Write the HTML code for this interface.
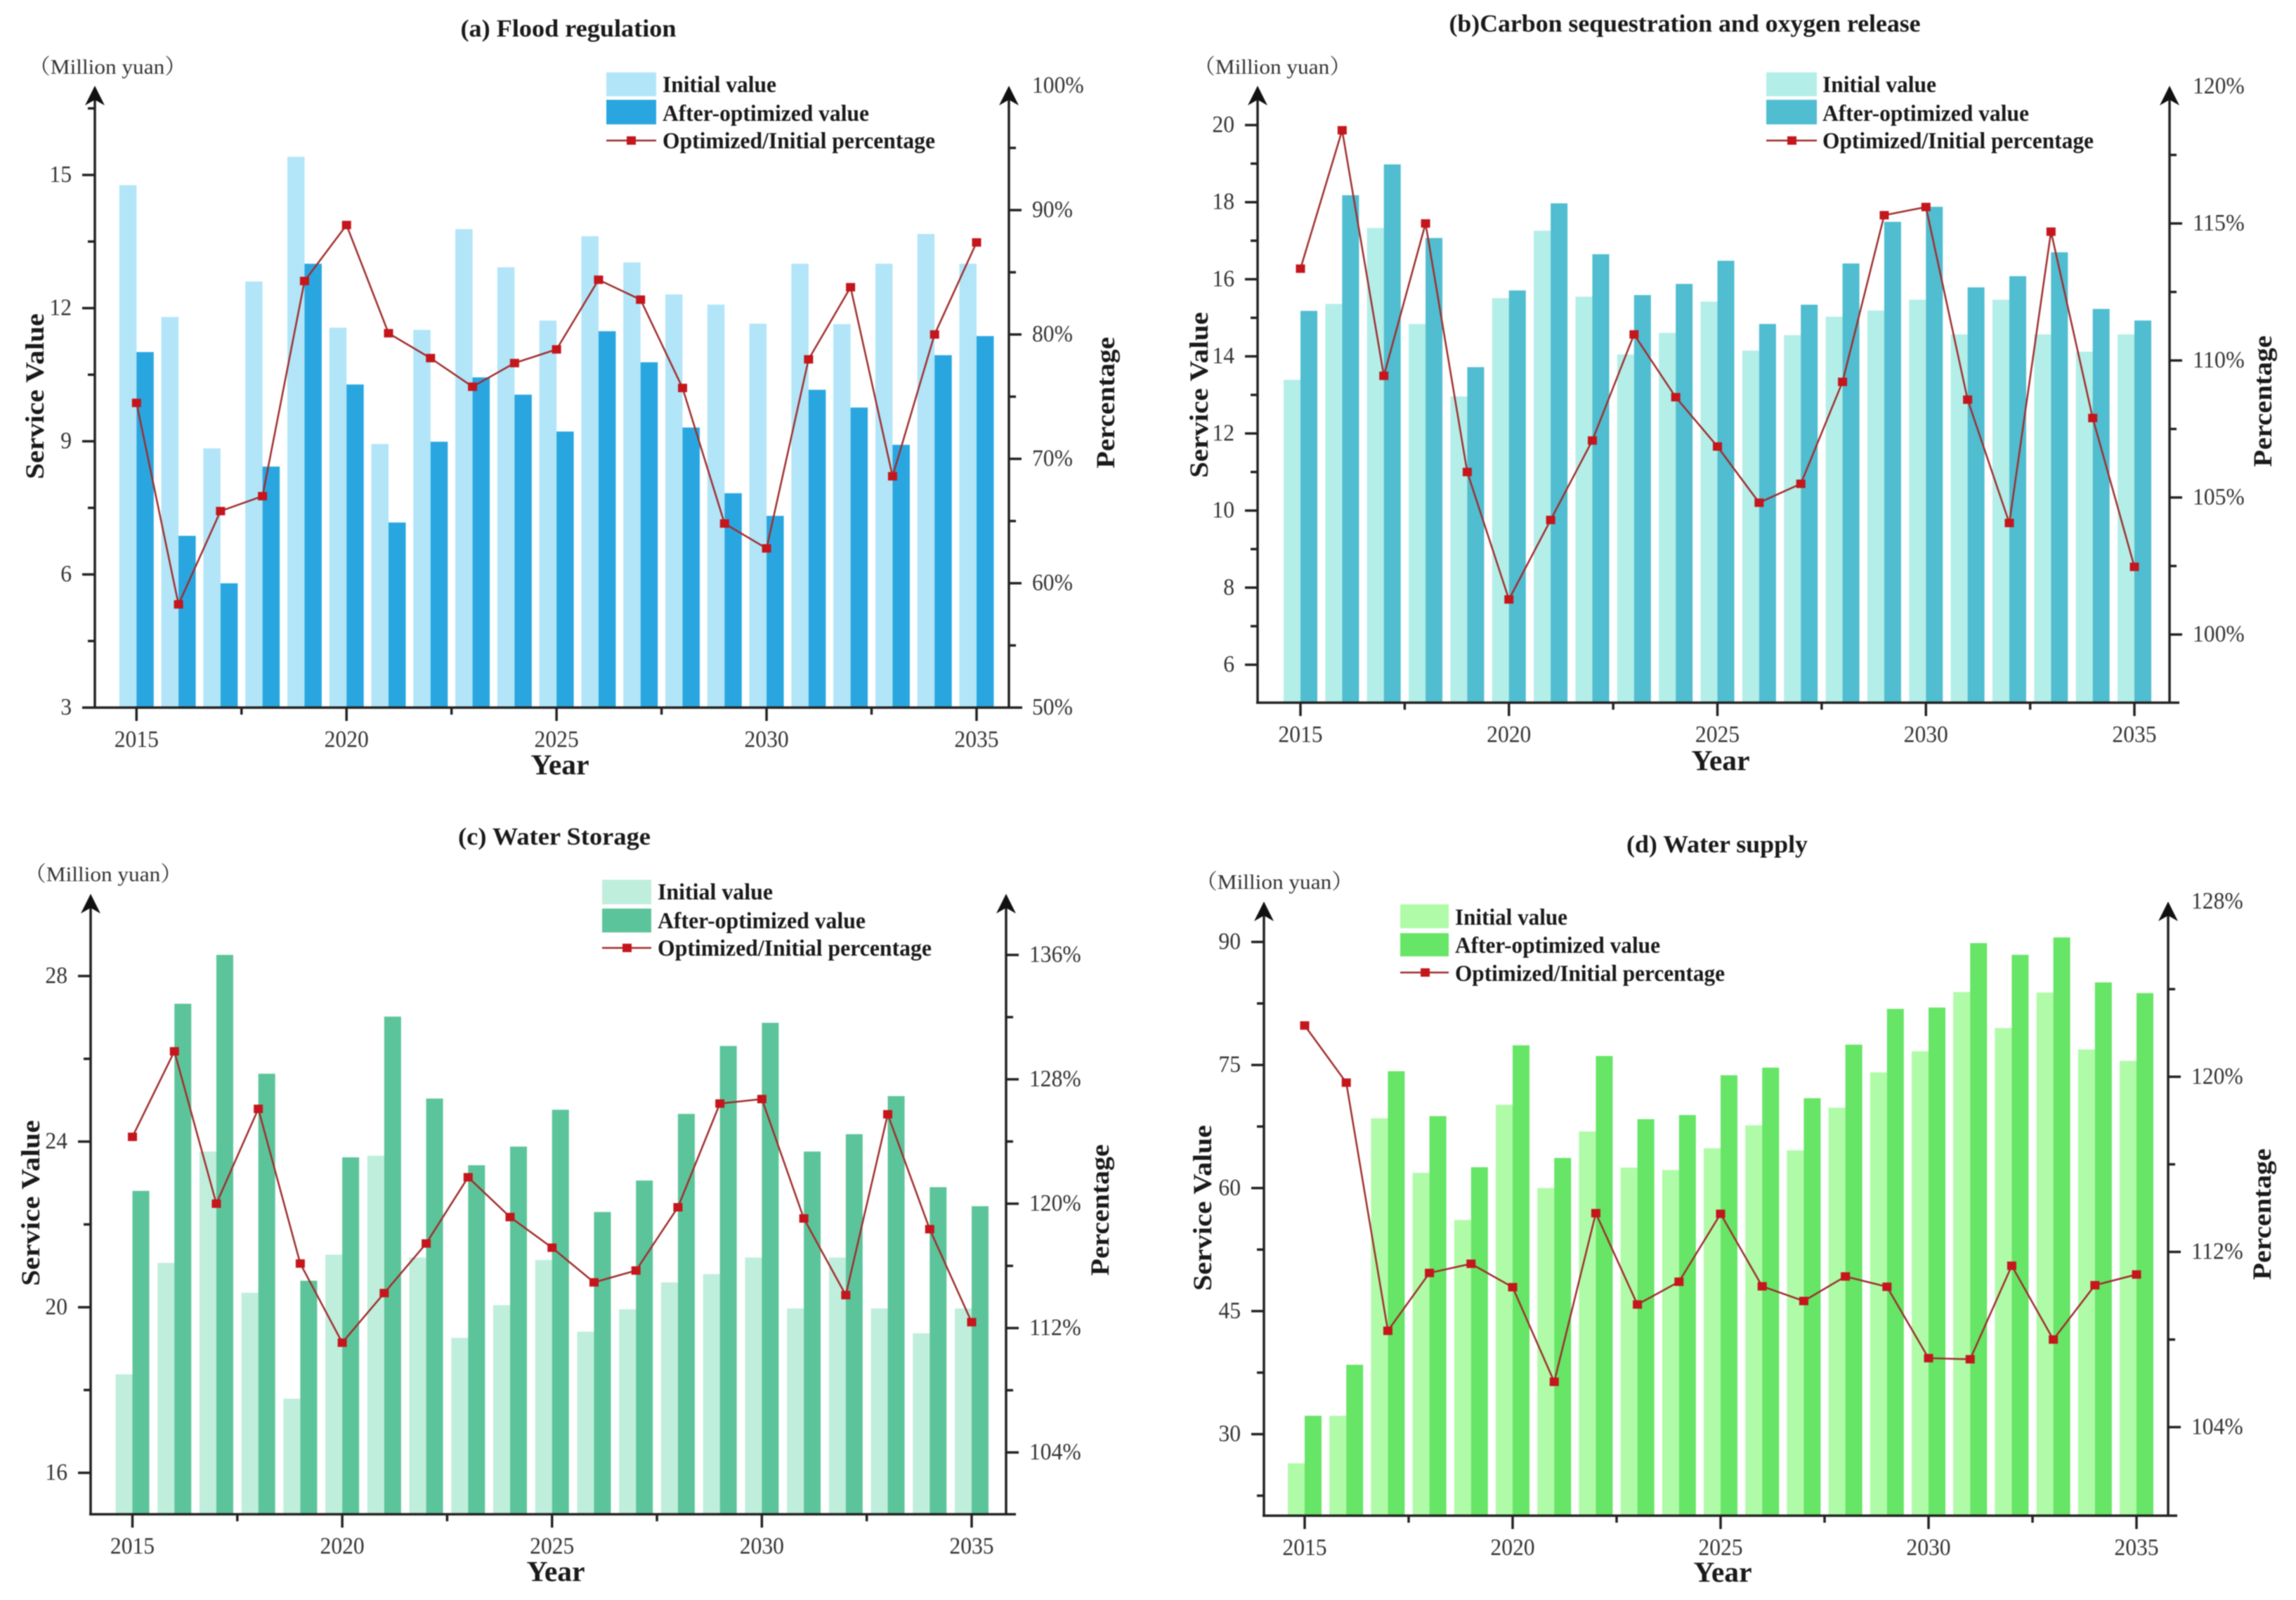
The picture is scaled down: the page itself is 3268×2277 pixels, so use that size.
<!DOCTYPE html>
<html lang="en">
<head>
<meta charset="utf-8">
<title>Ecosystem service values, initial and optimized, 2015-2035</title>
<style>
html,body{margin:0;padding:0;background:#fff;}
svg{display:block;filter:blur(0.7px);}
text{font-family:"Liberation Serif","Noto Serif CJK SC",serif;}
.tick{font-size:34px;fill:#333;}
.title{font-size:35px;font-weight:bold;fill:#1a1a1a;text-anchor:middle;}
.unit{font-size:30px;fill:#333;text-anchor:middle;}
.axt{font-size:37px;font-weight:bold;fill:#1a1a1a;text-anchor:middle;}
.yr{font-size:41px;font-weight:bold;fill:#1a1a1a;text-anchor:middle;}
.leg{font-size:33px;font-weight:bold;fill:#1a1a1a;}
</style>
</head>
<body>
<svg id="fig" xmlns="http://www.w3.org/2000/svg" width="3268" height="2277" viewBox="0 0 3268 2277">
<rect x="0" y="0" width="3268" height="2277" fill="#ffffff"/>

<g id="panel-a">
<g id="plot-a"></g>
<text class="title" x="809" y="52" textLength="307" lengthAdjust="spacingAndGlyphs">(a) Flood regulation</text>
<text class="unit" x="153" y="105" textLength="225" lengthAdjust="spacingAndGlyphs">（Million yuan）</text>
<text class="axt" transform="translate(62,564) rotate(-90)" textLength="236" lengthAdjust="spacingAndGlyphs">Service Value</text>
<text class="axt" transform="translate(1586,573) rotate(-90)" textLength="187" lengthAdjust="spacingAndGlyphs">Percentage</text>
<text class="yr" x="797" y="1102" textLength="83" lengthAdjust="spacingAndGlyphs">Year</text>
<g>
<rect x="863" y="103" width="71" height="34" fill="#B2E5F8"/>
<rect x="863" y="142" width="71" height="35" fill="#29A6E0"/>
<line x1="863" x2="934" y1="200" y2="200" stroke="#9E2B2B" stroke-width="2.5"/>
<rect x="892" y="194" width="13" height="12" fill="#C4161C"/>
<text class="leg" x="943" y="131" textLength="162" lengthAdjust="spacingAndGlyphs">Initial value</text>
<text class="leg" x="943" y="172" textLength="294" lengthAdjust="spacingAndGlyphs">After-optimized value</text>
<text class="leg" x="943" y="211" textLength="388" lengthAdjust="spacingAndGlyphs">Optimized/Initial percentage</text>
</g>
</g>

<g id="panel-b">
<g id="plot-b"></g>
<text class="title" x="2398" y="45" textLength="671" lengthAdjust="spacingAndGlyphs">(b)Carbon sequestration and oxygen release</text>
<text class="unit" x="1811" y="105" textLength="225" lengthAdjust="spacingAndGlyphs">（Million yuan）</text>
<text class="axt" transform="translate(1719,562) rotate(-90)" textLength="236" lengthAdjust="spacingAndGlyphs">Service Value</text>
<text class="axt" transform="translate(3233,571) rotate(-90)" textLength="187" lengthAdjust="spacingAndGlyphs">Percentage</text>
<text class="yr" x="2449" y="1096" textLength="83" lengthAdjust="spacingAndGlyphs">Year</text>
<g>
<rect x="2514" y="103" width="72" height="34" fill="#B4EEE8"/>
<rect x="2514" y="142" width="72" height="35" fill="#50BDD0"/>
<line x1="2514" x2="2586" y1="200" y2="200" stroke="#9E2B2B" stroke-width="2.5"/>
<rect x="2544" y="194" width="13" height="12" fill="#C4161C"/>
<text class="leg" x="2594" y="131" textLength="162" lengthAdjust="spacingAndGlyphs">Initial value</text>
<text class="leg" x="2594" y="172" textLength="294" lengthAdjust="spacingAndGlyphs">After-optimized value</text>
<text class="leg" x="2594" y="211" textLength="386" lengthAdjust="spacingAndGlyphs">Optimized/Initial percentage</text>
</g>
</g>

<g id="panel-c">
<g id="plot-c"></g>
<text class="title" x="789" y="1202" textLength="274" lengthAdjust="spacingAndGlyphs">(c) Water Storage</text>
<text class="unit" x="147" y="1254" textLength="225" lengthAdjust="spacingAndGlyphs">（Million yuan）</text>
<text class="axt" transform="translate(56,1712) rotate(-90)" textLength="236" lengthAdjust="spacingAndGlyphs">Service Value</text>
<text class="axt" transform="translate(1578,1722) rotate(-90)" textLength="187" lengthAdjust="spacingAndGlyphs">Percentage</text>
<text class="yr" x="791" y="2250" textLength="83" lengthAdjust="spacingAndGlyphs">Year</text>
<g>
<rect x="857" y="1252" width="70" height="35" fill="#C0EEDC"/>
<rect x="857" y="1293" width="70" height="34" fill="#5CC49A"/>
<line x1="857" x2="927" y1="1349" y2="1349" stroke="#9E2B2B" stroke-width="2.5"/>
<rect x="886" y="1343" width="13" height="12" fill="#C4161C"/>
<text class="leg" x="936" y="1280" textLength="164" lengthAdjust="spacingAndGlyphs">Initial value</text>
<text class="leg" x="936" y="1321" textLength="296" lengthAdjust="spacingAndGlyphs">After-optimized value</text>
<text class="leg" x="936" y="1360" textLength="390" lengthAdjust="spacingAndGlyphs">Optimized/Initial percentage</text>
</g>
</g>

<g id="panel-d">
<g id="plot-d"></g>
<text class="title" x="2444" y="1213" textLength="258" lengthAdjust="spacingAndGlyphs">(d) Water supply</text>
<text class="unit" x="1814" y="1265" textLength="225" lengthAdjust="spacingAndGlyphs">（Million yuan）</text>
<text class="axt" transform="translate(1724,1719) rotate(-90)" textLength="236" lengthAdjust="spacingAndGlyphs">Service Value</text>
<text class="axt" transform="translate(3232,1728) rotate(-90)" textLength="187" lengthAdjust="spacingAndGlyphs">Percentage</text>
<text class="yr" x="2452" y="2251" textLength="83" lengthAdjust="spacingAndGlyphs">Year</text>
<g>
<rect x="1993" y="1287" width="69" height="34" fill="#B0FBA8"/>
<rect x="1993" y="1328" width="69" height="33" fill="#66E566"/>
<line x1="1993" x2="2062" y1="1384" y2="1384" stroke="#9E2B2B" stroke-width="2.5"/>
<rect x="2022" y="1378" width="13" height="12" fill="#C4161C"/>
<text class="leg" x="2071" y="1316" textLength="160" lengthAdjust="spacingAndGlyphs">Initial value</text>
<text class="leg" x="2071" y="1356" textLength="292" lengthAdjust="spacingAndGlyphs">After-optimized value</text>
<text class="leg" x="2071" y="1396" textLength="384" lengthAdjust="spacingAndGlyphs">Optimized/Initial percentage</text>
</g>
</g>
</svg>

<script>
const years = [2015,2016,2017,2018,2019,2020,2021,2022,2023,2024,2025,2026,2027,2028,2029,2030,2031,2032,2033,2034,2035];
const xTickLabels = [2015,2020,2025,2030,2035];

const floodInitial = [14.77,11.8,8.84,12.6,15.41,11.56,8.94,11.51,13.78,12.92,11.72,13.62,13.03,12.31,12.08,11.65,13.0,11.64,13.0,13.67,13.0];
const floodAfter = [11.01,6.87,5.8,8.43,13.0,10.28,7.17,8.99,10.44,10.05,9.22,11.48,10.78,9.31,7.83,7.32,10.16,9.76,8.92,10.94,11.37];
const floodPct = [74.5,58.3,65.8,67,84.3,88.8,80.1,78.1,75.8,77.7,78.8,84.4,82.8,75.7,64.8,62.8,78,83.8,68.6,80,87.4];
const floodLeftTicks = [3,6,9,12,15];
const floodRightTicks = [50,60,70,80,90,100];

const carbonInitial = [13.39,15.36,17.33,14.84,12.96,15.51,17.26,15.55,14.05,14.61,15.42,14.15,14.55,15.03,15.19,15.47,14.57,15.47,14.57,14.12,14.57];
const carbonAfter = [15.18,18.18,18.98,17.07,13.72,15.71,17.97,16.65,15.59,15.88,16.48,14.84,15.34,16.41,17.49,17.88,15.79,16.08,16.7,15.23,14.93];
const carbonPct = [113.35,118.4,109.44,115,105.93,101.28,104.18,107.08,110.95,108.66,106.86,104.81,105.5,109.22,115.3,115.6,108.57,104.07,114.7,107.9,102.47];
const carbonLeftTicks = [6,8,10,12,14,16,18,20];
const carbonRightTicks = [100,105,110,115,120];

const storageInitial = [18.38,21.07,23.76,20.35,17.79,21.27,23.66,21.2,19.26,20.05,21.14,19.41,19.95,20.6,20.8,21.2,19.97,21.2,19.97,19.37,19.97];
const storageAfter = [22.81,27.33,28.51,25.64,20.64,23.62,27.02,25.04,23.43,23.88,24.77,22.3,23.06,24.67,26.31,26.87,23.76,24.18,25.1,22.9,22.44];
const storagePct = [124.3,129.8,120,126.1,116.15,111.06,114.25,117.44,121.7,119.14,117.17,114.94,115.7,119.77,126.44,126.73,119.05,114.12,125.75,118.36,112.38];
const storageLeftTicks = [16,20,24,28];
const storageRightTicks = [104,112,120,128,136];

const supplyInitial = [26.45,32.24,68.5,61.86,56.1,70.14,60,66.9,62.5,62.2,64.85,67.65,64.6,69.8,74.1,76.67,83.9,79.5,83.83,76.9,75.5];
const supplyAfter = [32.24,38.46,74.24,68.77,62.54,77.4,63.67,76.1,68.4,68.9,73.75,74.68,70.95,77.48,81.84,82,89.86,88.43,90.55,85.07,83.76];
const supplyPct = [122.34,119.73,108.4,111.04,111.46,110.39,106.07,113.77,109.6,110.64,113.74,110.43,109.76,110.88,110.41,107.15,107.1,111.37,108,110.48,110.97];
const supplyLeftTicks = [30,45,60,75,90];
const supplyRightTicks = [104,112,120,128];

const panels = [
  {id:'plot-a', key:'flood', initial:floodInitial, after:floodAfter, pct:floodPct, leftTicks:floodLeftTicks, rightTicks:floodRightTicks,
   initialColor:'#B2E5F8', afterColor:'#29A6E0', axisL:135, axisR:1436, base:1007, tip:122, x0:194.3, x1:1390, barW:24.5, extL:18, extR:19,
   lv:[3,1007,15,249], rv:[50,1007,100,122]},
  {id:'plot-b', key:'carbon', initial:carbonInitial, after:carbonAfter, pct:carbonPct, leftTicks:carbonLeftTicks, rightTicks:carbonRightTicks,
   initialColor:'#B4EEE8', afterColor:'#50BDD0', axisL:1790, axisR:3088, base:1000, tip:122, x0:1851, x1:3038, barW:24, extL:2, extR:14,
   lv:[6,946,20,178], rv:[100,903,120,123]},
  {id:'plot-c', key:'storage', initial:storageInitial, after:storageAfter, pct:storagePct, leftTicks:storageLeftTicks, rightTicks:storageRightTicks,
   initialColor:'#C0EEDC', afterColor:'#5CC49A', axisL:129, axisR:1432, base:2155, tip:1272, x0:188.5, x1:1383, barW:24, extL:2, extR:14,
   lv:[16,2096,28,1389], rv:[104,2067,136,1359]},
  {id:'plot-d', key:'supply', initial:supplyInitial, after:supplyAfter, pct:supplyPct, leftTicks:supplyLeftTicks, rightTicks:supplyRightTicks,
   initialColor:'#B0FBA8', afterColor:'#66E566', axisL:1799, axisR:3086, base:2157, tip:1283, x0:1857, x1:3041, barW:24, extL:2, extR:13,
   lv:[30,2041,90,1340.5], rv:[104,2031,128,1283]}
];

const NS = 'http://www.w3.org/2000/svg';
function mk(tag, attrs, parent) {
  const el = document.createElementNS(NS, tag);
  for (const k in attrs) el.setAttribute(k, attrs[k]);
  parent.appendChild(el);
  return el;
}
function linear(spec) {
  const d0 = spec[0], r0 = spec[1], d1 = spec[2], r1 = spec[3];
  return v => r0 + (v - d0) * (r1 - r0) / (d1 - d0);
}
function minorValues(ticks) {
  const out = [];
  const step = ticks[1] - ticks[0];
  out.push(ticks[0] - step / 2);
  for (let i = 0; i < ticks.length; i++) out.push(ticks[i] + step / 2);
  return out;
}
function axisLine(p, g, x1, y1, x2, y2, name) {
  const el = mk('line', {x1:x1, y1:y1, x2:x2, y2:y2, stroke:'#222', 'stroke-width':3.5}, g);
  
  
  return el;
}
function arrowHead(g, x, tip, name) {
  const d = 'M' + x + ' ' + tip + ' L' + (x + 14) + ' ' + (tip + 28) + ' L' + x + ' ' + (tip + 20) + ' L' + (x - 14) + ' ' + (tip + 28) + ' Z';
  const el = mk('path', {d:d, fill:'#111'}, g);
  
  
}
function labelWidth(str) {
  const digits = str.replace('%', '').length;
  return digits * 15.8 + (str.indexOf('%') >= 0 ? 26.3 : 0);
}
function tickLabel(g, x, y, str, anchor, name) {
  const el = mk('text', {x:x, y:y, 'text-anchor':anchor, class:'tick', textLength:labelWidth(str), lengthAdjust:'spacingAndGlyphs'}, g);
  el.textContent = str;
  
  
}

panels.forEach(function (p) {
  const g = document.getElementById(p.id);
  const xs = linear([years[0], p.x0, years[years.length - 1], p.x1]);
  const yL = linear(p.lv);
  const yR = linear(p.rv);

  // bars
  years.forEach(function (yr, i) {
    const top1 = yL(p.initial[i]);
    const b1 = mk('rect', {x:xs(yr) - p.barW, y:top1, width:p.barW, height:p.base - top1, fill:p.initialColor}, g);
    
    
    const top2 = yL(p.after[i]);
    const b2 = mk('rect', {x:xs(yr), y:top2, width:p.barW, height:p.base - top2, fill:p.afterColor}, g);
    
    
  });

  // axes
  axisLine(p, g, p.axisL, p.base, p.axisL, p.tip + 20, p.key + '-left-axis');
  axisLine(p, g, p.axisR, p.base, p.axisR, p.tip + 20, p.key + '-right-axis');
  axisLine(p, g, p.axisL - p.extL, p.base, p.axisR + p.extR, p.base, p.key + '-x-axis');
  arrowHead(g, p.axisL, p.tip, p.key + '-left-axis-arrow');
  arrowHead(g, p.axisR, p.tip, p.key + '-right-axis-arrow');

  // left ticks
  p.leftTicks.forEach(function (v) {
    const y = yL(v);
    if (y < p.base - 4) axisLine(p, g, p.axisL - 18, y, p.axisL, y, p.key + '-left-tick-' + v);
    tickLabel(g, p.axisL - 33, y + 10, String(v), 'end', p.key + '-left-tick-label-' + v);
  });
  minorValues(p.leftTicks).forEach(function (v) {
    const y = yL(v);
    if (y < p.base - 5 && y > p.tip + 28) axisLine(p, g, p.axisL - 10, y, p.axisL, y, p.key + '-left-minor-tick');
  });

  // right ticks
  p.rightTicks.forEach(function (v) {
    const y = yR(v);
    if (y < p.base - 4 && y > p.tip + 28) axisLine(p, g, p.axisR, y, p.axisR + 18, y, p.key + '-right-tick-' + v);
    tickLabel(g, p.axisR + 33, y + 10, v + '%', 'start', p.key + '-right-tick-label-' + v);
  });
  minorValues(p.rightTicks).forEach(function (v) {
    const y = yR(v);
    if (y < p.base - 5 && y > p.tip + 28) axisLine(p, g, p.axisR, y, p.axisR + 10, y, p.key + '-right-minor-tick');
  });

  // x ticks
  xTickLabels.forEach(function (yr, i) {
    const x = xs(yr);
    axisLine(p, g, x, p.base, x, p.base + 19, p.key + '-x-tick-' + yr);
    tickLabel(g, x, p.base + 56, String(yr), 'middle', p.key + '-x-tick-label-' + yr);
    if (i < xTickLabels.length - 1) {
      const xm = xs(yr + (xTickLabels[i + 1] - yr) / 2);
      axisLine(p, g, xm, p.base, xm, p.base + 10, p.key + '-x-minor-tick');
    }
  });

  // percentage line
  const pts = years.map(function (yr, i) { return xs(yr) + ',' + yR(p.pct[i]); }).join(' ');
  const line = mk('polyline', {points:pts, fill:'none', stroke:'#9E2B2B', 'stroke-width':2.5}, g);
  
  
  years.forEach(function (yr, i) {
    const m = mk('rect', {x:xs(yr) - 6.5, y:yR(p.pct[i]) - 6, width:13, height:12, fill:'#C4161C'}, g);
    
    
  });
});
</script>
</body>
</html>
